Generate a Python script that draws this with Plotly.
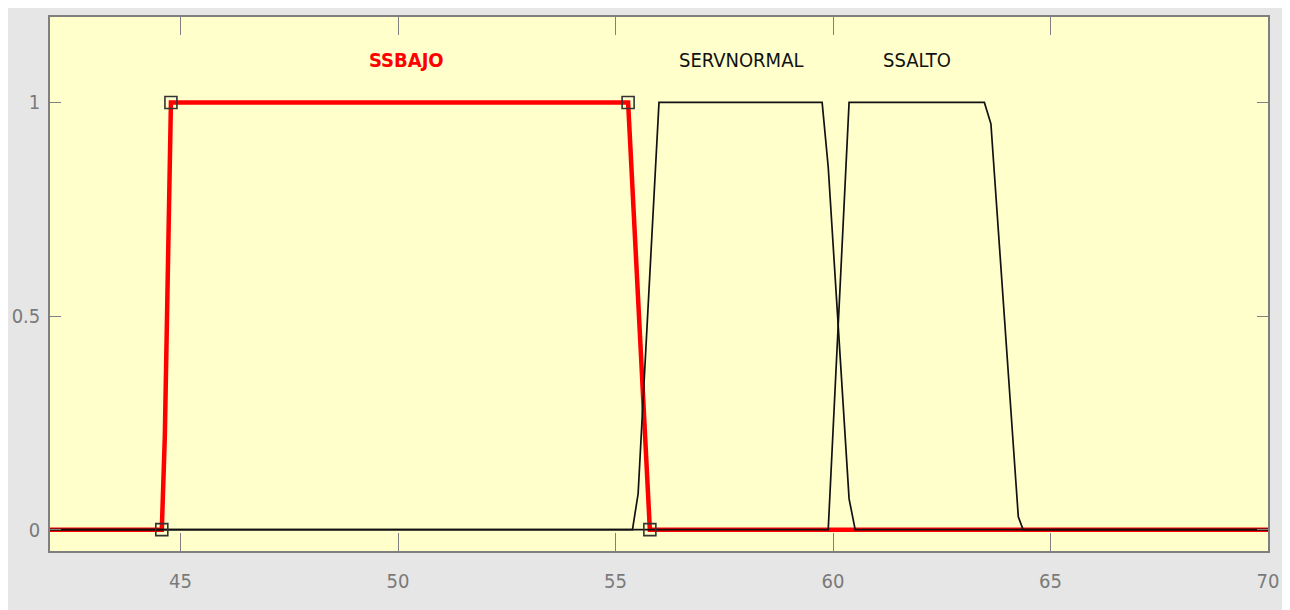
import plotly.graph_objects as go

# membership function vertices (input variable SERVNIVEL)
ssbajo_x = [42, 44.57, 44.64, 44.78, 55.29, 55.36, 55.79, 70]
ssbajo_y = [0, 0, 0.22, 1, 1, 0.865, 0, 0]
ssbajo_params = [44.57, 44.78, 55.29, 55.79]
ssbajo_param_y = [0, 1, 1, 0]

servnormal_x = [42, 55.39, 55.52, 56.0, 59.75, 59.89, 60.37, 60.51, 70]
servnormal_y = [0, 0, 0.084, 1, 1, 0.849, 0.072, 0, 0]

ssalto_x = [42, 59.89, 60.37, 63.48, 63.63, 64.26, 64.37, 70]
ssalto_y = [0, 0, 1, 1, 0.95, 0.03, 0, 0]

mf_names = ["SSBAJO", "SERVNORMAL", "SSALTO"]
label_x = [50.19, 57.89, 61.92]
label_y = 1.1

x_ticks = [45, 50, 55, 60, 65, 70]
y_ticks = [0, 0.5, 1]
y_ticklabels = ["0", "0.5", "1"]

font_fam = "DejaVu Sans Condensed, Liberation Sans Narrow, DejaVu Sans, sans-serif"

fig = go.Figure()

# selected MF in red, drawn underneath
fig.add_trace(go.Scatter(x=ssbajo_x, y=ssbajo_y, mode="lines",
                         line=dict(color="#ff0000", width=4.5),
                         hoverinfo="skip", showlegend=False))
fig.add_trace(go.Scatter(x=servnormal_x, y=servnormal_y, mode="lines",
                         line=dict(color="#111111", width=1.7),
                         showlegend=False))
fig.add_trace(go.Scatter(x=ssalto_x, y=ssalto_y, mode="lines",
                         line=dict(color="#111111", width=1.7),
                         showlegend=False))
# parameter handles of the selected MF
fig.add_trace(go.Scatter(x=ssbajo_params, y=ssbajo_param_y, mode="markers",
                         marker=dict(symbol="square-open", size=12, color="#333333",
                                     line=dict(width=1.6, color="#333333")),
                         showlegend=False))

for name, lx in zip(mf_names, label_x):
    sel = name == "SSBAJO"
    fig.add_annotation(x=lx, y=label_y, text=f"<b>{name}</b>" if sel else name,
                       showarrow=False,
                       font=dict(family=font_fam, size=20,
                                 color="#ff0000" if sel else "#111111"))

# x-axis label, mostly below the window edge
fig.add_annotation(x=0.5, y=-0.1, xref="paper", yref="paper", yanchor="top",
                   text='input variable "SERVNIVEL"', showarrow=False,
                   font=dict(family=font_fam, size=20, color="#555555"))

fig.update_layout(
    width=1282, height=602,
    margin=dict(l=42, r=22, t=9, b=59),
    paper_bgcolor="#e6e6e6",
    plot_bgcolor="#ffffcc",
    font=dict(family=font_fam, color="#7a7a7a"),
    showlegend=False,
)
fig.update_xaxes(range=[42, 70], tickvals=x_ticks, ticks="inside", ticklen=18,
                 tickwidth=1, tickcolor="#808080", showgrid=False, zeroline=False,
                 showline=True, linecolor="#7f7f7f", linewidth=1.5, mirror="ticks",
                 automargin=False,
                 tickfont=dict(size=20, color="#7a7a7a"), ticklabelstandoff=11)
fig.update_yaxes(range=[-0.05, 1.2], tickvals=y_ticks, ticktext=y_ticklabels,
                 ticks="inside", ticklen=11, tickwidth=1, tickcolor="#808080",
                 showgrid=False, zeroline=False, showline=True, linecolor="#7f7f7f",
                 linewidth=1.5, mirror="ticks", automargin=False,
                 tickfont=dict(size=20, color="#7a7a7a"), ticklabelstandoff=4)

fig.write_html("out.html")
